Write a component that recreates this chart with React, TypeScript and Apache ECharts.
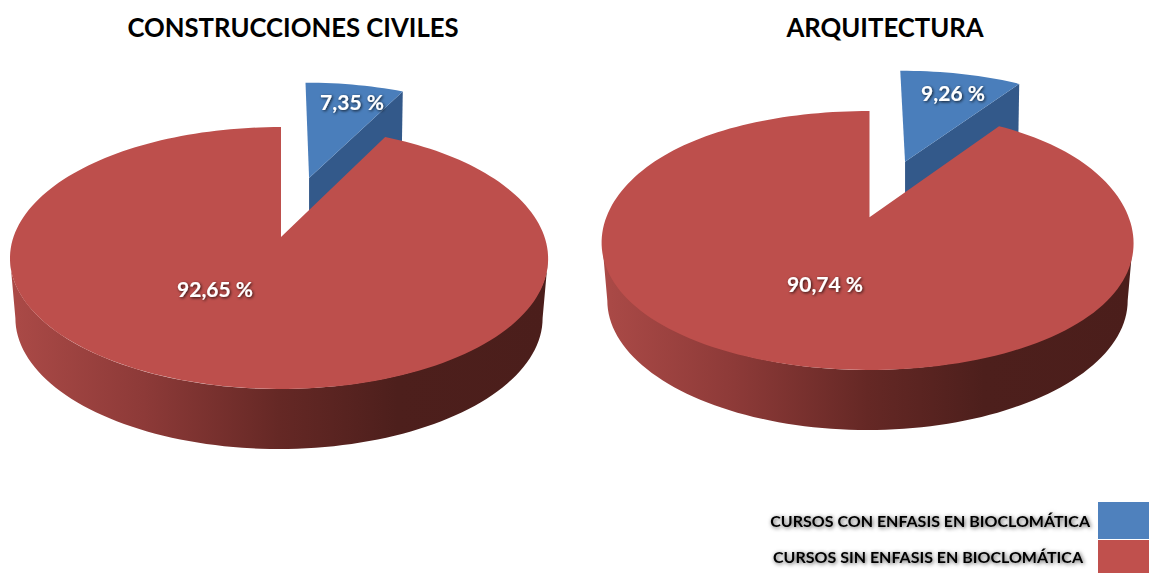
import React, { useEffect, useRef } from "react";
import * as echarts from "echarts";

const categories = ["CURSOS CON ENFASIS EN BIOCLOMÁTICA", "CURSOS SIN ENFASIS EN BIOCLOMÁTICA"];
const chartTitles = ["CONSTRUCCIONES CIVILES", "ARQUITECTURA"];
const civilesValues = [7.35, 92.65];
const arquitecturaValues = [9.26, 90.74];
const formatPct = (v: number) => v.toFixed(2).replace(".", ",") + " %";

const BLUE = "#4a7ebb";
const RED = "#bd4f4c";
const LEG_BLUE = "#4f81bd";
const LEG_RED = "#c0504d";
const WALL = "#33598a";

const pies = [
  { cx: 279, cy: 258, rx: 269, ry: 131, k: -0.16, du: 0.113, dv: -0.5, ax: 2, bx: 3, depth: 60, blueLabel: [352, 101], redLabel: [215, 288] },
  { cx: 867.5, cy: 240.5, rx: 265.5, ry: 129.5, k: -0.18, du: 0.14, dv: -0.48, ax: 2, bx: 14, depth: 60, blueLabel: [953, 92], redLabel: [825, 283] },
];
type Pie = (typeof pies)[number];

// Perspective projection of the unit circle onto the ellipse of the pie's top face.
function project(p: Pie, u: number, v: number): number[] {
  const d = 1 + p.k * v;
  const bend = Math.max(0, 1 - u * u);
  return [
    p.cx + (p.rx * u * Math.sqrt(1 - p.k * p.k)) / d + p.ax * bend + p.bx * u * bend,
    p.cy + (p.ry * (v + p.k)) / d,
  ];
}
function sectorPoints(p: Pie, fromPct: number, toPct: number, du = 0, dv = 0): number[][] {
  const a0 = (fromPct / 100) * 2 * Math.PI;
  const a1 = (toPct / 100) * 2 * Math.PI;
  const n = Math.max(4, Math.ceil((toPct - fromPct) * 2));
  const pts = [project(p, du, dv)];
  for (let i = 0; i <= n; i++) {
    const a = a0 + ((a1 - a0) * i) / n;
    pts.push(project(p, Math.sin(a) + du, -Math.cos(a) + dv));
  }
  return pts;
}
function sideGradient() {
  return new echarts.graphic.LinearGradient(0, 0, 1, 0, [
    { offset: 0, color: "#ab4a47" },
    { offset: 0.25, color: "#8d3a38" },
    { offset: 0.5, color: "#652825" },
    { offset: 0.72, color: "#4d1f1c" },
    { offset: 1, color: "#4b1e1b" },
  ]);
}
const labelFont = 'bold 21px Lato, "Noto Sans", sans-serif';
function labelEl(text: string, pos: number[]) {
  return {
    type: "text",
    z2: 10,
    style: {
      text,
      x: pos[0],
      y: pos[1],
      align: "center",
      verticalAlign: "middle",
      fill: "#ffffff",
      font: labelFont,
      textShadowColor: "rgba(0,0,0,0.8)",
      textShadowBlur: 3,
      textShadowOffsetX: 1,
      textShadowOffsetY: 1,
    },
  };
}

function blueSeries(p: Pie, values: number[]) {
  return {
    type: "custom",
    name: categories[0],
    coordinateSystem: "none",
    itemStyle: { color: LEG_BLUE },
    silent: true,
    data: [values[0]],
    renderItem: (_: any, api: any) => {
      const v = api.value(0);
      const pts = sectorPoints(p, 0, v, p.du, p.dv);
      const apex = pts[0];
      const corner = pts[pts.length - 1];
      const wall = [apex, corner, [corner[0] - 1, corner[1] + p.depth], [apex[0], apex[1] + p.depth]];
      return {
        type: "group",
        children: [
          { type: "polygon", shape: { points: wall }, style: { fill: WALL } },
          { type: "polygon", shape: { points: pts }, style: { fill: BLUE } },
          labelEl(formatPct(v), p.blueLabel),
        ],
      };
    },
  };
}
function redSeries(p: Pie, values: number[]) {
  return {
    type: "custom",
    name: categories[1],
    coordinateSystem: "none",
    itemStyle: { color: LEG_RED },
    silent: true,
    data: [values[1]],
    renderItem: (_: any, api: any) => {
      const v = api.value(0);
      const pts = sectorPoints(p, 100 - v, 100);
      const upper: number[][] = [];
      const lower: number[][] = [];
      for (let i = 0; i <= 90; i++) {
        const a = (i / 90) * Math.PI;
        upper.push([p.cx + p.rx * Math.cos(a), p.cy + p.ry * Math.sin(a)]);
        lower.unshift([p.cx + 0.98 * p.rx * Math.cos(a), p.cy + p.depth + p.ry * Math.sin(a)]);
      }
      return {
        type: "group",
        children: [
          { type: "polygon", shape: { points: upper.concat(lower) }, style: { fill: sideGradient() } },
          { type: "polygon", shape: { points: pts }, style: { fill: RED } },
          labelEl(formatPct(v), p.redLabel),
        ],
      };
    },
  };
}

export default function App() {
  const ref = useRef<HTMLDivElement>(null);
  useEffect(() => {
    const chart = echarts.init(ref.current!, null, { renderer: "svg" });
    const legendText = {
      fontFamily: 'Lato, "Noto Sans", sans-serif',
      fontWeight: "bold" as const,
      fontSize: 16,
      color: "#000",
      textShadowColor: "rgba(0,0,0,0.7)",
      textShadowBlur: 4,
      textShadowOffsetX: 1,
      textShadowOffsetY: 1,
    };
    const titleText = { fontFamily: "Lato", fontWeight: "bold" as const, fontSize: 25.7, color: "#000" };
    chart.setOption({
      animation: false,
      backgroundColor: "#ffffff",
      title: [
        { text: chartTitles[0], left: 288, top: 9, textAlign: "center", textStyle: titleText },
        { text: chartTitles[1], left: 880, top: 9, textAlign: "center", textStyle: titleText },
      ],
      legend: [
        { data: [categories[0]], right: 0, top: 502, padding: 0, align: "right", icon: "rect", itemWidth: 51, itemHeight: 37, selectedMode: false, textStyle: { ...legendText, padding: [0, 3, 2, 0] } },
        { data: [categories[1]], right: 0, top: 540, padding: 0, align: "right", icon: "rect", itemWidth: 51, itemHeight: 33, selectedMode: false, textStyle: { ...legendText, padding: [0, 10, 0, 0] } },
      ],
      series: [
        blueSeries(pies[0], civilesValues),
        redSeries(pies[0], civilesValues),
        blueSeries(pies[1], arquitecturaValues),
        redSeries(pies[1], arquitecturaValues),
      ],
    });
    return () => chart.dispose();
  }, []);
  return <div ref={ref} style={{ position: "absolute", left: 0, top: 0, width: 1149, height: 575 }} />;
}
